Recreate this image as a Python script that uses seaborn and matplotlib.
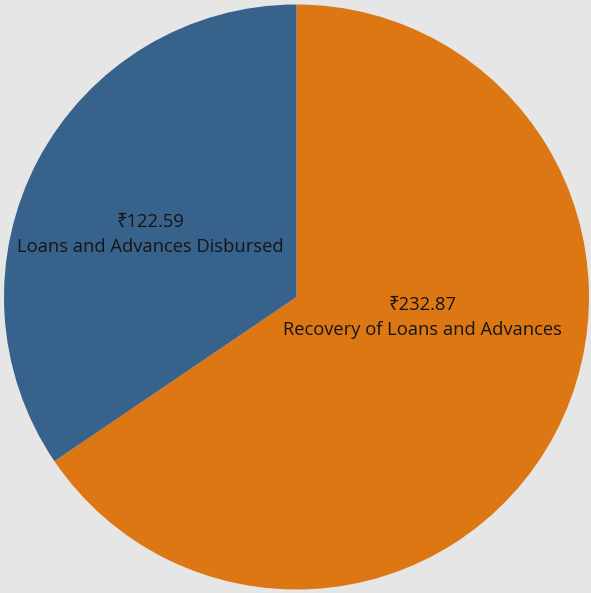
import matplotlib
matplotlib.use("Agg")
import matplotlib.pyplot as plt
import seaborn as sns

categories = ["Recovery of Loans and Advances", "Loans and Advances Disbursed"]
values = [232.87, 122.59]
colors = ["#dd7713", "#37628c"]
label_pos = [(0.43, -0.07), (-0.50, 0.215)]

sns.set_theme(style="white")
plt.rcParams['font.family'] = ['Open Sans', 'Noto Sans', 'DejaVu Sans']

fig = plt.figure(figsize=(5.91, 5.93), dpi=100)
fig.patch.set_facecolor("#e6e6e6")
ax = fig.add_axes([4/591, 3/593, 585/591, 586/593])
ax.set_facecolor("#e6e6e6")
ax.pie(values, colors=colors, startangle=90, counterclock=False,
       wedgeprops=dict(linewidth=0))
ax.set_xlim(-1, 1)
ax.set_ylim(-1, 1)
ax.set_aspect("equal")
for cat, v, (x, y) in zip(categories, values, label_pos):
    ax.text(x, y, f"₹{v:.2f}\n{cat}", ha="center", va="center",
            fontsize=13.2, color="#151515", linespacing=1.5)
ax.axis("off")
fig.savefig("out.png", dpi=100, facecolor=fig.get_facecolor())
